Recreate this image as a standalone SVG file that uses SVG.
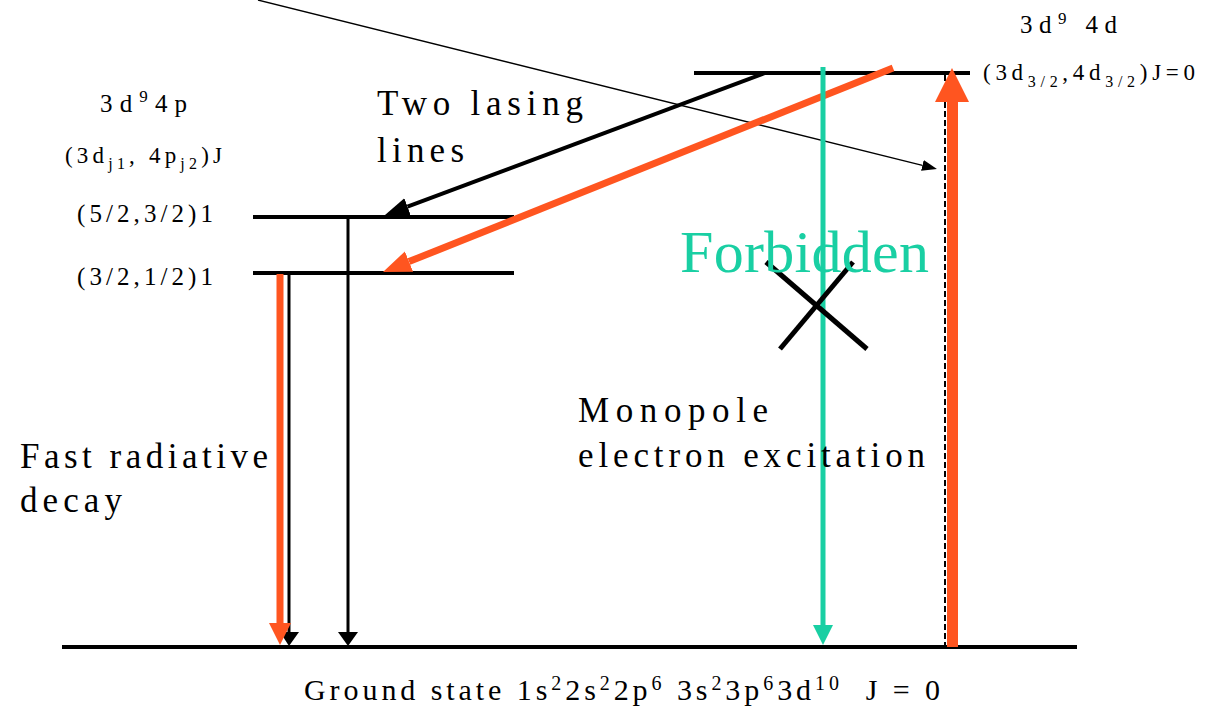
<svg xmlns="http://www.w3.org/2000/svg" width="1209" height="709" viewBox="0 0 1209 709">
<style>
text{font-family:"Liberation Serif","Times New Roman",serif;fill:#000}
.lvl{stroke:#000;stroke-width:4;fill:none}
.blk{stroke:#000;fill:none}
.org{stroke:#FF5520;fill:none}
.cy{stroke:#19CFA3;fill:none}
.big{font-size:35px}
.sm{font-size:23px}
.md{font-size:25px}
.sub{font-size:16px}
.sup{font-size:20px}
</style>
<defs>
<marker id="hb" markerUnits="userSpaceOnUse" markerWidth="30" markerHeight="24" refX="0" refY="9" orient="auto"><path d="M0,0 L24,9 L0,18 z" fill="#000"/></marker>
<marker id="ho" markerUnits="userSpaceOnUse" markerWidth="32" markerHeight="26" refX="0" refY="11" orient="auto"><path d="M0,0 L28,11 L0,22 z" fill="#FF5520"/></marker>
<marker id="ht" markerUnits="userSpaceOnUse" markerWidth="18" markerHeight="12" refX="0" refY="5.5" orient="auto"><path d="M0,0 L15,5.5 L0,11 z" fill="#000"/></marker>
</defs>
<g id="levels">
<line class="lvl" x1="694" y1="73" x2="970" y2="73"/>
<line class="lvl" x1="253" y1="217" x2="514" y2="217" stroke-width="3.5"/>
<line class="lvl" x1="253" y1="273" x2="514" y2="273" stroke-width="3.5"/>
<line class="lvl" x1="62" y1="647" x2="1077" y2="647"/>
</g>
<g id="connectors">
<line class="blk" stroke-width="1.3" x1="258" y1="0" x2="922.4" y2="165.4" marker-end="url(#ht)"/>
<line class="blk" stroke-width="4" x1="765" y1="73" x2="407.5" y2="206.6" marker-end="url(#hb)"/>
<line class="org" stroke-width="7" x1="893" y1="68" x2="409" y2="261.6" marker-end="url(#ho)"/>
<line class="blk" stroke-width="3" x1="348" y1="217" x2="348" y2="633"/>
<polygon points="338,632 358,632 348,646" fill="#000"/>
<line class="blk" stroke-width="3" x1="289" y1="274" x2="289" y2="633"/>
<polygon points="280,632 299,632 289,646" fill="#000"/>
<line class="org" stroke-width="7" x1="280" y1="274" x2="280" y2="624"/>
<polygon points="269,623 291,623 280,645" fill="#FF5520"/>
<line class="cy" stroke-width="5" x1="823" y1="67" x2="823" y2="626"/>
<polygon points="813,625 833,625 823,645" fill="#19CFA3"/>
<line class="blk" stroke-width="2" stroke-dasharray="6 3" x1="945" y1="75" x2="945" y2="647"/>
<rect x="947" y="100" width="11" height="547" fill="#FF5520"/>
<polygon points="935,102 969,102 952,68" fill="#FF5520"/>
</g>
<g id="cross">
<line class="blk" stroke-width="5" x1="766" y1="262" x2="867" y2="349"/>
<line class="blk" stroke-width="5" x1="853" y1="262" x2="780" y2="349"/>
</g>
<g id="upper-label">
<text x="1020" y="33" class="md" textLength="97" lengthAdjust="spacing">3d<tspan font-size="17" dy="-9">9</tspan><tspan dy="9"> 4d</tspan></text>
<text x="983" y="80" class="sm" textLength="212" lengthAdjust="spacing">(3d<tspan class="sub" dy="7">3/2</tspan><tspan dy="-7">,4d</tspan><tspan class="sub" dy="7">3/2</tspan><tspan dy="-7">)J=0</tspan></text>
</g>
<g id="left-labels">
<text x="100" y="112" class="md" textLength="87" lengthAdjust="spacing">3d<tspan font-size="17" dy="-10">9</tspan><tspan dy="10">4p</tspan></text>
<text x="65" y="163" class="sm" textLength="157" lengthAdjust="spacing">(3d<tspan class="sub" dy="6">j1</tspan><tspan dy="-6">, 4p</tspan><tspan class="sub" dy="6">j2</tspan><tspan dy="-6">)J</tspan></text>
<text x="77" y="222" class="md" textLength="136" lengthAdjust="spacing">(5/2,3/2)1</text>
<text x="77" y="285" class="md" textLength="136" lengthAdjust="spacing">(3/2,1/2)1</text>
</g>
<g id="lasing-label">
<text x="377" y="115" class="big" textLength="206" lengthAdjust="spacing">Two lasing</text>
<text x="377" y="162" class="big" textLength="87" lengthAdjust="spacing">lines</text>
</g>
<g id="forbidden-label">
<text x="680" y="272" font-size="60" style="fill:#19CFA3" textLength="249" lengthAdjust="spacing">Forbidden</text>
</g>
<g id="monopole-label">
<text x="578" y="422" class="big" textLength="190" lengthAdjust="spacing">Monopole</text>
<text x="578" y="467" class="big" textLength="347" lengthAdjust="spacing">electron excitation</text>
</g>
<g id="decay-label">
<text x="20" y="468" class="big" textLength="248" lengthAdjust="spacing">Fast radiative</text>
<text x="20" y="512" class="big" textLength="102" lengthAdjust="spacing">decay</text>
</g>
<g id="ground-label">
<text x="304" y="700" font-size="30" textLength="636" lengthAdjust="spacing">Ground state 1s<tspan class="sup" dy="-10">2</tspan><tspan dy="10">2s</tspan><tspan class="sup" dy="-10">2</tspan><tspan dy="10">2p</tspan><tspan class="sup" dy="-10">6</tspan><tspan dy="10"> 3s</tspan><tspan class="sup" dy="-10">2</tspan><tspan dy="10">3p</tspan><tspan class="sup" dy="-10">6</tspan><tspan dy="10">3d</tspan><tspan class="sup" dy="-10">10</tspan><tspan dy="10" xml:space="preserve">  J = 0</tspan></text>
</g>
</svg>
